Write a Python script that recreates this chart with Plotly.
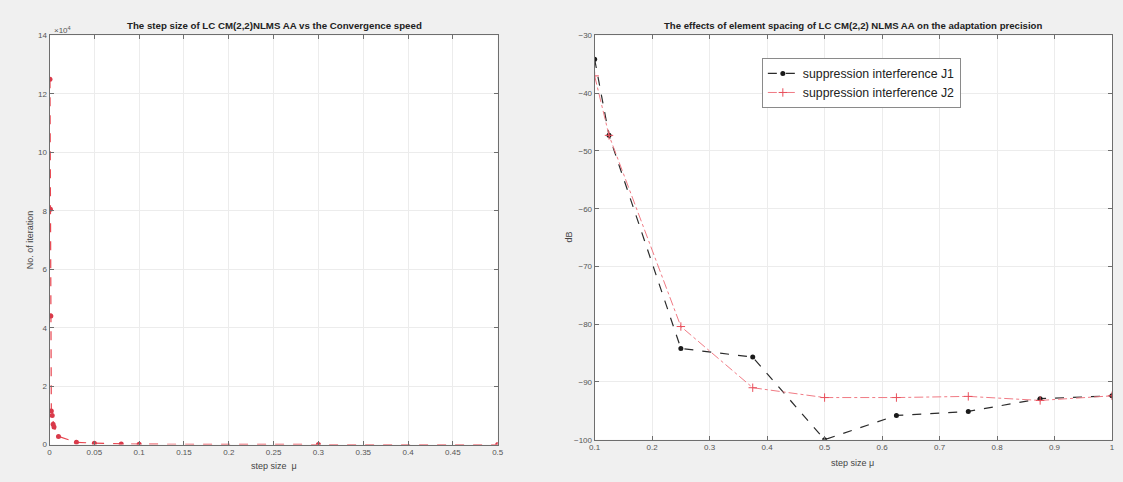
import plotly.graph_objects as go

# Left panel: step size vs number of iterations to converge
step_mu = [0.0005, 0.001, 0.0015, 0.002, 0.003, 0.004, 0.005, 0.01, 0.03, 0.05, 0.08, 0.1, 0.3, 0.5]
iterations = [125000, 80500, 44000, 11500, 10000, 7000, 6000, 2800, 800, 500, 250, 150, 40, 10]

# Right panel: adaptation precision (dB) vs step size
spacing = [0.1, 0.125, 0.25, 0.375, 0.5, 0.625, 0.75, 0.875, 1.0]
j1_db = [-34.1, -47.3, -84.2, -85.7, -100.0, -95.8, -95.1, -92.9, -92.4]
j2_db = [-37.0, -47.3, -80.4, -91.0, -92.7, -92.7, -92.5, -93.2, -92.4]

left_yticks = [0, 20000, 40000, 60000, 80000, 100000, 120000, 140000]
left_yticktext = ["0", "2", "4", "6", "8", "10", "12", "14"]
left_xticks = [0, 0.05, 0.1, 0.15, 0.2, 0.25, 0.3, 0.35, 0.4, 0.45, 0.5]
right_xticks = [0.1, 0.2, 0.3, 0.4, 0.5, 0.6, 0.7, 0.8, 0.9, 1]
right_yticks = [-100, -90, -80, -70, -60, -50, -40, -30]

W, H = 1123, 482
FONT = "Liberation Sans, Arial, sans-serif"
AX_COL = "#6e6e6e"
GRID_COL = "#ececec"

fig = go.Figure()

fig.add_trace(go.Scatter(
    x=step_mu, y=iterations, mode="lines+markers",
    line=dict(color="#e8454f", width=1.2, dash="dash"),
    marker=dict(color="#d93a4a", size=5, symbol="circle"),
    xaxis="x", yaxis="y", showlegend=False,
))

fig.add_trace(go.Scatter(
    x=spacing, y=j1_db, mode="lines+markers", name="suppression interference J1",
    line=dict(color="#2b2b2b", width=1.2, dash="dash"),
    marker=dict(color="#1a1a1a", size=5, symbol="circle"),
    xaxis="x2", yaxis="y2",
))
fig.add_trace(go.Scatter(
    x=spacing, y=j2_db, mode="lines+markers", name="suppression interference J2",
    line=dict(color="#f07a84", width=1, dash="dashdot"),
    marker=dict(color="#e8505c", size=6, symbol="cross-thin", line=dict(color="#e8505c", width=1)),
    xaxis="x2", yaxis="y2",
))

axis_common = dict(
    showgrid=True, gridcolor=GRID_COL, gridwidth=1,
    showline=True, linecolor=AX_COL, linewidth=1, mirror="ticks",
    ticks="inside", ticklen=4, tickcolor=AX_COL,
    tickfont=dict(family=FONT, size=8, color="#555555"),
    zeroline=False,
)

fig.update_layout(
    width=W, height=H,
    margin=dict(l=0, r=0, t=0, b=0),
    paper_bgcolor="#f0f0f0", plot_bgcolor="white",
    font=dict(family=FONT),
    xaxis=dict(domain=[44 / W, 497 / W], range=[0, 0.5], tickvals=left_xticks,
               ticktext=["0", "0.05", "0.1", "0.15", "0.2", "0.25", "0.3", "0.35", "0.4", "0.45", "0.5"],
               anchor="y", **axis_common),
    yaxis=dict(domain=[1 - 449 / H, 1 - 32 / H], range=[0, 140001], tickvals=left_yticks,
               ticktext=left_yticktext, anchor="x", **axis_common),
    xaxis2=dict(domain=[595 / W, 1118 / W], range=[0.1, 1.0001], tickvals=right_xticks,
                ticktext=["0.1", "0.2", "0.3", "0.4", "0.5", "0.6", "0.7", "0.8", "0.9", "1"],
                anchor="y2", **axis_common),
    yaxis2=dict(domain=[1 - 444 / H, 1 - 32 / H], range=[-100, -29.99], tickvals=right_yticks,
                anchor="x2", **axis_common),
    legend=dict(x=764 / W, y=1 - 55 / H, xanchor="left", yanchor="top",
                bgcolor="white", bordercolor="#8a8a8a", borderwidth=1,
                font=dict(family=FONT, size=12.3, color="#222222"),
                itemwidth=30, tracegroupgap=2),
)


def label(text, px, py, size=9, angle=0, color="#444444"):
    return dict(text=text, x=px / W, y=1 - py / H, xref="paper", yref="paper",
                xanchor="center", yanchor="middle", textangle=angle,
                showarrow=False, font=dict(family=FONT, size=size, color=color))


annotations = [
    label("<b>The step size of LC CM(2,2)NLMS AA vs the Convergence speed</b>",
          (45 + 497) / 2, 22, size=9.7, color="#222222"),
    label("<b>The effects of element spacing of LC CM(2,2) NLMS AA on the adaptation precision</b>",
          (595 + 1118) / 2, 22, size=9.6, color="#222222"),
    dict(text="×10<sup>4</sup>", x=47 / W, y=1 - 26 / H, xref="paper", yref="paper",
         xanchor="left", yanchor="middle", showarrow=False,
         font=dict(family=FONT, size=8, color="#555555")),
    label("No. of iteration", 24, 240, angle=-90),
    label("step size  μ", 271, 471),
    label("dB", 569, 237, angle=-90),
    label("step size μ", 856, 468),
]
fig.update_layout(annotations=annotations)

fig.write_html("out.html")
